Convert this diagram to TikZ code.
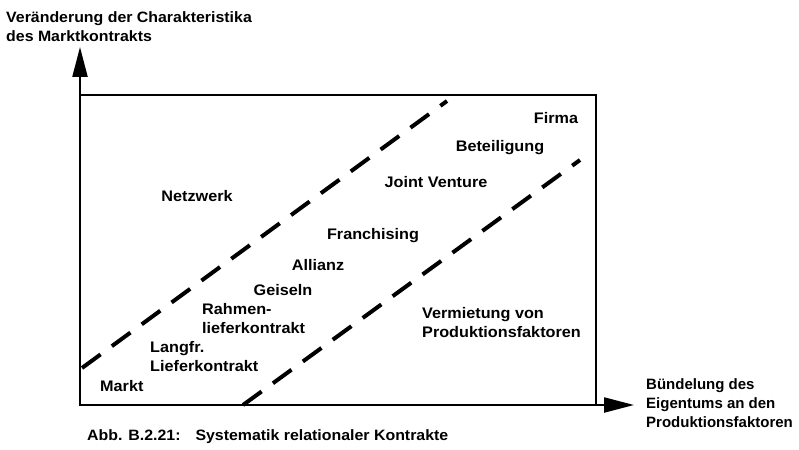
\documentclass[tikz,border=0pt]{standalone}
\usepackage{fontspec}
\setmainfont{Liberation Sans}
\newfontfamily\widefont[FakeStretch=1.06]{Liberation Sans}
\usetikzlibrary{arrows.meta}
\begin{document}
\begin{tikzpicture}[x=1pt,y=-1pt,
  lbl/.style={font=\widefont\fontsize{15.3}{19.5}\selectfont\bfseries, inner sep=0pt, align=left},
  axlbl/.style={font=\fontsize{15}{19}\selectfont\bfseries, inner sep=0pt, align=left, anchor=north west},
  frame/.style={line width=2.2pt},
  axis/.style={line width=2.2pt, -{Triangle[length=30pt,width=15pt]}},
  divider/.style={line width=4pt, dash pattern=on 23pt off 14pt}]
\useasboundingbox (0,0) rectangle (799,449);
\coordinate (o) at (80,405);
\coordinate (ytip) at (80,47);
\coordinate (xtip) at (634,405);
\coordinate (tl) at (80,95);
\coordinate (br) at (596,405);
\draw[frame] (tl) rectangle (br);
\draw[axis] (o) -- (ytip);
\draw[axis] (o) -- (xtip);
\coordinate (u1) at (82,368);
\coordinate (u2) at (447,101);
\coordinate (l1) at (243,405);
\coordinate (l2) at (580,160);
\draw[divider] (u1) -- (u2);
\draw[divider] (l1) -- (l2);
\node[axlbl, font=\widefont\fontsize{15}{19}\selectfont\bfseries] (ylab) at (6,11) {Veränderung der Charakteristika\\des Marktkontrakts};
\node[axlbl] (xlab) at (646,378) {Bündelung des\\Eigentums an den\\Produktionsfaktoren};
\node[lbl] (firma) at (556,118) {Firma};
\node[lbl] (bet) at (500,148) {Beteiligung};
\node[lbl] (jv) at (436,182) {Joint Venture};
\node[lbl] (netz) at (197,196) {Netzwerk};
\node[lbl] (fran) at (373,236) {Franchising};
\node[lbl] (alli) at (318,265) {Allianz};
\node[lbl] (geis) at (283,290) {Geiseln};
\node[lbl, anchor=north west] (rahm) at (202,303) {Rahmen-\\lieferkontrakt};
\node[lbl, anchor=north west] (lang) at (150,341) {Langfr.\\Lieferkontrakt};
\node[lbl, anchor=west] (markt) at (100,386) {Markt};
\node[lbl, anchor=north west] (verm) at (422,307) {Vermietung von\\Produktionsfaktoren};
\node[font=\widefont\fontsize{15}{17}\selectfont\bfseries, inner sep=0pt, anchor=west] (cap) at (87,437) {Abb. B.2.21:\hspace{1em}Systematik relationaler Kontrakte};
\end{tikzpicture}
\end{document}
